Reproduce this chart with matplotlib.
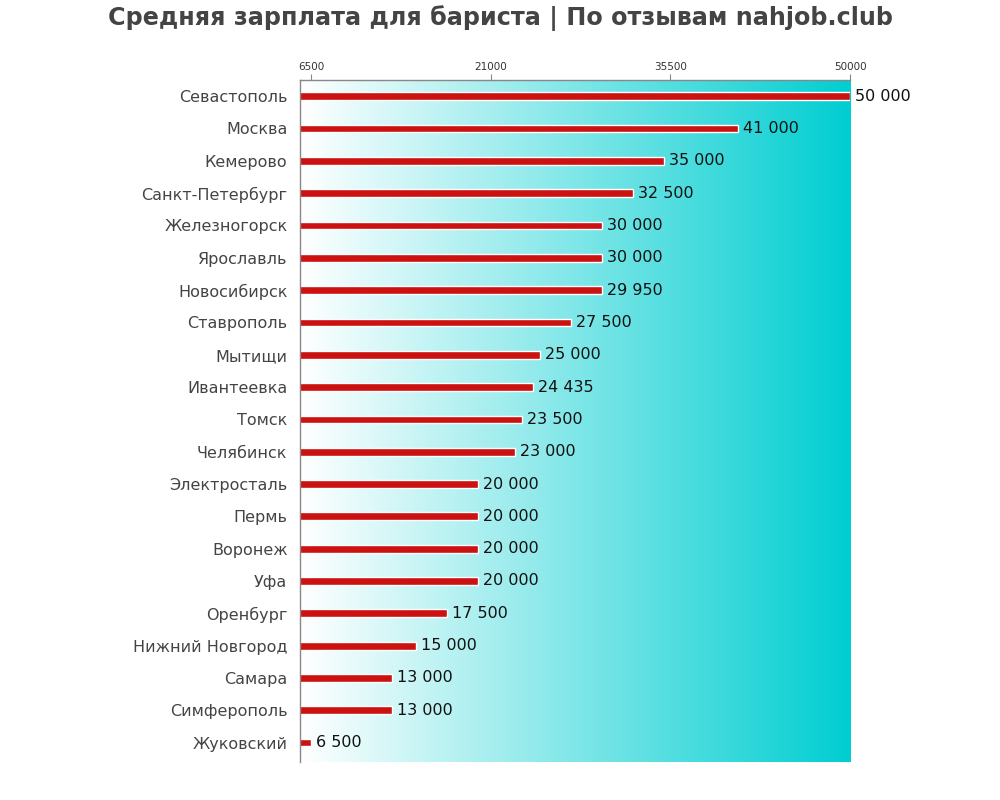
import numpy as np
import matplotlib
matplotlib.use("Agg")
import matplotlib.pyplot as plt
from matplotlib.colors import LinearSegmentedColormap

# ── Data ──────────────────────────────────────────────────────────────────────
cities = ["Севастополь", "Москва", "Кемерово", "Санкт-Петербург", "Железногорск",
          "Ярославль", "Новосибирск", "Ставрополь", "Мытищи", "Ивантеевка",
          "Томск", "Челябинск", "Электросталь", "Пермь", "Воронеж", "Уфа",
          "Оренбург", "Нижний Новгород", "Самара", "Симферополь", "Жуковский"]
salaries = [50000, 41000, 35000, 32500, 30000, 30000, 29950, 27500, 25000, 24435,
            23500, 23000, 20000, 20000, 20000, 20000, 17500, 15000, 13000, 13000, 6500]
ticks = [6500, 21000, 35500, 50000]

X0, X1 = 5610, 50000

fig = plt.figure(figsize=(10, 8), dpi=100)
ax = fig.add_axes([0.30, 0.0475, 0.55, 0.8525])

# gradient background
cmap = LinearSegmentedColormap.from_list("bg", ["#ffffff", "#00ced1"])
grad = np.linspace(0, 1, 256).reshape(1, -1)
ax.imshow(grad, extent=[X0, X1, 20.6, -0.5], aspect="auto", cmap=cmap,
          zorder=0, interpolation="bicubic")

y = np.arange(len(cities))
ax.barh(y, salaries, height=0.24, color="#cc1111", edgecolor="white",
        linewidth=1, zorder=2)

for yi, v in zip(y, salaries):
    ax.text(v + 400, yi, f"{v:,}".replace(",", " "), va="center", ha="left",
            fontsize=11.5, color="#111111", zorder=3)

ax.set_xlim(X0, X1)
ax.set_ylim(20.6, -0.5)
ax.xaxis.tick_top()
ax.set_xticks(ticks)
ax.set_xticklabels([str(t) for t in ticks], fontsize=7.5, color="#333333")
ax.tick_params(axis="x", length=4, color="#888888", pad=2)
ax.set_yticks(y)
ax.set_yticklabels(cities, fontsize=11.5, color="#444444")
ax.tick_params(axis="y", length=0, pad=9)

for s in ["right", "bottom"]:
    ax.spines[s].set_visible(False)
for s in ["top", "left"]:
    ax.spines[s].set_color("#888888")
    ax.spines[s].set_linewidth(1)

fig.suptitle("Средняя зарплата для бариста | По отзывам nahjob.club",
             fontsize=17.2, fontweight="bold", color="#444444", y=0.993)

fig.savefig("out.png", dpi=100)
